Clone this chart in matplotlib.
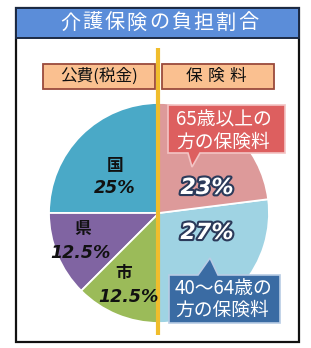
import matplotlib
matplotlib.use("Agg")
import matplotlib.pyplot as plt
import matplotlib.patheffects as pe
from matplotlib.patches import Rectangle, Polygon

W, H = 311, 348

TITLE = "介護保険の負担割合"
GROUP_LABELS = ["公費(税金)", "保険料"]
PUBLIC_LABELS = ["国", "県", "市"]
PUBLIC_SHARES = [25, 12.5, 12.5]
PREMIUM_LABELS = ["40〜64歳の\n方の保険料", "65歳以上の\n方の保険料"]
PREMIUM_SHARES = [27, 23]

COLORS = ["#4aa9c7", "#8064a2", "#9bbb59", "#9fd3e3", "#dd9a9a"]
CJK = ["Noto Sans CJK JP", "DejaVu Sans"]
NUM = ["DejaVu Sans", "Noto Sans CJK JP"]


def Y(y):
    # picture rows run downward, axes upward
    return H - y


fig = plt.figure(figsize=(W / 100, H / 100), dpi=100)
ax = fig.add_axes([0, 0, 1, 1])

# pie: public part on the left, premiums on the right
ax.pie(PUBLIC_SHARES + PREMIUM_SHARES, colors=COLORS, startangle=90,
       counterclock=True, center=(159, Y(213)), radius=110,
       wedgeprops=dict(edgecolor="white", linewidth=1.3))

# outer frame and title bar
ax.add_patch(Rectangle((16, Y(342)), 283, 334, fill=False,
                       edgecolor="#111111", lw=1.6, zorder=5))
ax.add_patch(Rectangle((16, Y(38)), 283, 30, facecolor="#5b8dd9",
                       edgecolor="#1c2a44", lw=1.4, zorder=5))
for i, ch in enumerate(TITLE):
    ax.text(70 + i * 22.3, Y(23), ch, color="white", fontsize=14.5,
            family=CJK, ha="center", va="center", zorder=6)

# group label boxes
ax.add_patch(Rectangle((43, Y(89)), 112, 25, facecolor="#fac090",
                       edgecolor="#9a4a3c", lw=1.3, zorder=4))
ax.add_patch(Rectangle((162, Y(89)), 112, 25, facecolor="#fac090",
                       edgecolor="#9a4a3c", lw=1.3, zorder=4))
ax.text(99, Y(76), GROUP_LABELS[0], fontsize=12, family=CJK,
        ha="center", va="center", color="#111111", zorder=5)
for i, ch in enumerate(GROUP_LABELS[1]):
    ax.text(194 + i * 22, Y(76), ch, fontsize=12, family=CJK,
            ha="center", va="center", color="#111111", zorder=5)

# dividing line
ax.plot([158, 158], [Y(48), Y(335)], color="#f0bd2c", lw=3, zorder=4,
        solid_capstyle="butt")

# public shares
pub_pos = [((115, 166), (115, 188)), ((83, 229), (80, 253)), ((124, 273), (128, 297))]
for lab, val, (kp, np_) in zip(PUBLIC_LABELS, PUBLIC_SHARES, pub_pos):
    ax.text(kp[0], Y(kp[1]), lab, fontsize=12, family=CJK, fontweight="bold",
            ha="center", va="center", color="#111111", zorder=6)
    ax.text(np_[0], Y(np_[1]), f"{val:g}%", fontsize=12.5, family=NUM,
            fontweight="bold", style="italic", ha="center", va="center",
            color="#111111", zorder=6)

# premium shares
outline = [pe.withStroke(linewidth=3, foreground="#2b3a5a")]
for val, yy in zip(PREMIUM_SHARES, [233, 188]):
    ax.text(207, Y(yy), f"{val}%", fontsize=16, family=NUM, fontweight="bold",
            style="italic", ha="center", va="center", color="white",
            path_effects=outline, zorder=6)

# callouts
red = [(168, 105), (285, 105), (285, 153), (200, 153), (192, 167),
       (188, 153), (168, 153)]
blue = [(169, 275), (198, 275), (210, 258), (218, 275), (280, 275),
        (280, 323), (169, 323)]
ax.add_patch(Polygon([(x, Y(y)) for x, y in red], closed=True,
                     facecolor="#dd5f5f", edgecolor="#f3c4c4", lw=1.2, zorder=6))
ax.add_patch(Polygon([(x, Y(y)) for x, y in blue], closed=True,
                     facecolor="#3a6ba3", edgecolor="#b8cce4", lw=1.2, zorder=6))
ax.text(176, Y(131), PREMIUM_LABELS[1], fontsize=13.5, family=CJK,
        ha="left", va="center", color="white", linespacing=1.05, zorder=7)
ax.text(175, Y(299), PREMIUM_LABELS[0], fontsize=13.5, family=CJK,
        ha="left", va="center", color="white", linespacing=1.05, zorder=7)

ax.set_xlim(0, W)
ax.set_ylim(0, H)
ax.set_aspect("auto")
ax.axis("off")

fig.savefig("out.png", dpi=100, facecolor="white")
